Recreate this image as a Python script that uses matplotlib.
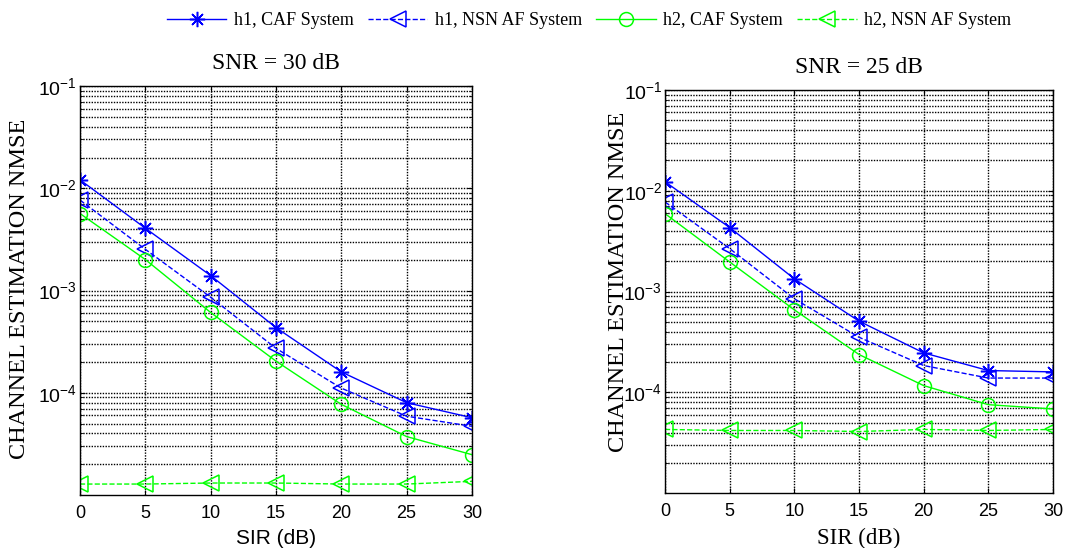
import matplotlib.pyplot as plt
from matplotlib.ticker import LogLocator, NullFormatter, FixedLocator

plt.rcParams['mathtext.fontset'] = 'custom'
plt.rcParams['mathtext.rm'] = 'Liberation Sans'
plt.rcParams['mathtext.it'] = 'Liberation Sans'

sir = [0, 5, 10, 15, 20, 25, 30]

# SNR = 30 dB
h1_caf_30 = [1.21e-2, 4.07e-3, 1.40e-3, 4.34e-4, 1.60e-4, 8.0e-5, 5.7e-5]
h1_nsn_30 = [7.67e-3, 2.53e-3, 8.6e-4, 2.72e-4, 1.11e-4, 5.9e-5, 4.7e-5]
h2_caf_30 = [5.66e-3, 2.01e-3, 6.1e-4, 2.04e-4, 7.7e-5, 3.73e-5, 2.48e-5]
h2_nsn_30 = [1.28e-5, 1.28e-5, 1.31e-5, 1.31e-5, 1.28e-5, 1.28e-5, 1.36e-5]

# SNR = 25 dB
h1_caf_25 = [1.23e-2, 4.32e-3, 1.34e-3, 5.1e-4, 2.47e-4, 1.65e-4, 1.60e-4]
h1_nsn_25 = [7.76e-3, 2.67e-3, 8.5e-4, 3.53e-4, 1.85e-4, 1.39e-4, 1.39e-4]
h2_caf_25 = [5.94e-3, 1.97e-3, 6.6e-4, 2.38e-4, 1.17e-4, 7.57e-5, 6.86e-5]
h2_nsn_25 = [4.3e-5, 4.2e-5, 4.2e-5, 4.1e-5, 4.3e-5, 4.2e-5, 4.3e-5]

labels = ['h1, CAF System', 'h1, NSN AF System', 'h2, CAF System', 'h2, NSN AF System']
titles = ['SNR = 30 dB', 'SNR = 25 dB']

fig = plt.figure(figsize=(10.78, 5.48), dpi=100)
ax1 = fig.add_axes([0.0742, 0.0967, 0.3636, 0.7463])
ax2 = fig.add_axes([0.6169, 0.0998, 0.3599, 0.7360])

serif = 'Liberation Serif'
sans = 'Liberation Sans'
star = (8, 2, 0)  # matlab style asterisk
dots = (0, (1, 1))

for ax, data, title in [(ax1, [h1_caf_30, h1_nsn_30, h2_caf_30, h2_nsn_30], titles[0]),
                        (ax2, [h1_caf_25, h1_nsn_25, h2_caf_25, h2_nsn_25], titles[1])]:
    ax.semilogy(sir, data[0], '-', color='blue', marker=star, ms=11, mew=1.1, lw=1)
    ax.semilogy(sir, data[1], '--', color='blue', marker='<', ms=12, mfc='none', mew=1.1, lw=1)
    ax.semilogy(sir, data[2], '-', color='#00ff00', marker='o', ms=10, mfc='none', mew=1.1, lw=1)
    ax.semilogy(sir, data[3], '--', color='#00ff00', marker='<', ms=12, mfc='none', mew=1.1, lw=1)
    ax.set_xlim(0, 30)
    ax.set_ylim(1e-5, 1e-1)
    ax.set_xticks(sir)
    ax.yaxis.set_major_locator(FixedLocator([1e-4, 1e-3, 1e-2, 1e-1]))
    ax.yaxis.set_minor_locator(LogLocator(base=10, subs=range(2, 10), numticks=20))
    ax.yaxis.set_minor_formatter(NullFormatter())
    ax.grid(True, which='major', color='black', ls=dots, lw=1)
    ax.grid(True, which='minor', axis='y', color='black', ls=dots, lw=1)
    ax.tick_params(which='both', direction='in', top=True, right=True)
    ax.tick_params(axis='x', labelsize=13, pad=7)
    ax.tick_params(axis='y', labelsize=14, pad=2)
    for lab in ax.get_xticklabels() + ax.get_yticklabels():
        lab.set_fontfamily(sans)
    ax.set_title(title, fontfamily=serif, fontsize=17, pad=12)
    ax.set_ylabel('CHANNEL ESTIMATION NMSE', fontfamily=serif, fontsize=17.5)
    for s in ax.spines.values():
        s.set_linewidth(1)

# label position is the right edge of the rotated text
ax1.yaxis.set_label_coords(-0.128, 0.505)
ax2.yaxis.set_label_coords(-0.092, 0.525)

ax1.set_xlabel('SIR (dB)', fontfamily=sans, fontsize=15, labelpad=5)
ax2.set_xlabel('SIR (dB)', fontfamily=serif, fontsize=16.5, labelpad=6)

fig.legend(ax1.get_lines(), labels, loc='center', bbox_to_anchor=(0.5464, 0.962), ncol=4,
           frameon=False, prop={'family': serif, 'size': 13}, handlelength=3.3,
           columnspacing=0.8, handletextpad=0.4, borderpad=0, borderaxespad=0)

fig.savefig('out.png', dpi=100)
